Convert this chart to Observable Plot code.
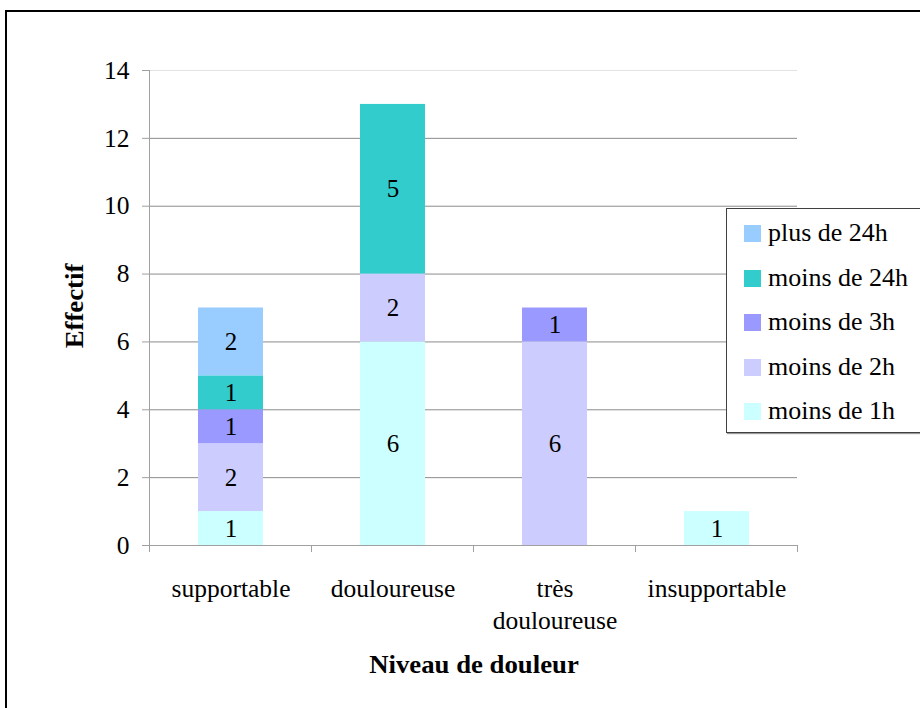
<!DOCTYPE html>
<html>
<head>
<meta charset="utf-8">
<script src="https://cdn.jsdelivr.net/npm/d3@7"></script>
<script src="https://cdn.jsdelivr.net/npm/@observablehq/plot@0.6"></script>
<style>
  html, body { margin: 0; padding: 0; background: #fff; }
  #wrap { position: relative; width: 920px; height: 708px; overflow: hidden; font-family: "Liberation Serif", "Times New Roman", serif; color: #000; }
  #frame { position: absolute; left: 5px; top: 10px; width: 960px; height: 760px; border: 2px solid #000; box-sizing: border-box; }
  #chart { position: absolute; left: 0; top: 0; }
  #legend { position: absolute; left: 726px; top: 208px; width: 220px; height: 225px; border: 1px solid #404040; box-shadow: 1px 1px 1px #999; background: #fff; box-sizing: border-box; }
  .row { position: absolute; left: 17px; height: 20px; display: flex; align-items: center; font-size: 24.5px; white-space: nowrap; }
  .row span { display: inline-block; transform: scaleX(1.06); transform-origin: left center; }
  .sw { width: 17px; height: 17px; margin-right: 7px; }
  #ytitle { position: absolute; left: 75px; top: 306px; transform: translate(-50%, -50%) rotate(-90deg) scaleX(1.07); font-weight: bold; font-size: 25px; white-space: nowrap; }
  #xtitle { position: absolute; left: 474px; top: 652px; transform: translateX(-50%) scaleX(1.07); font-weight: bold; font-size: 25px; white-space: nowrap; line-height: 25px; }
</style>
</head>
<body>
<div id="wrap">
  <div id="frame"></div>
  <div id="chart"></div>
  <div id="legend"></div>
  <div id="ytitle">Effectif</div>
  <div id="xtitle">Niveau de douleur</div>
</div>
<script>
const categories = ["supportable", "douloureuse", "très douloureuse", "insupportable"];
const categoryLabels = ["supportable", "douloureuse", "très\ndouloureuse", "insupportable"];
const series = ["moins de 1h", "moins de 2h", "moins de 3h", "moins de 24h", "plus de 24h"];
const colors = ["#CCFFFF", "#CCCCFF", "#9999FF", "#33CCCC", "#99CCFF"];
const supportable = [1, 2, 1, 1, 2];
const douloureuse = [6, 2, 0, 5, 0];
const tresDouloureuse = [0, 6, 1, 0, 0];
const insupportable = [1, 0, 0, 0, 0];
const yTicks = [0, 2, 4, 6, 8, 10, 12, 14];

const valuesByCategory = [supportable, douloureuse, tresDouloureuse, insupportable];
const data = [];
categories.forEach((c, ci) => {
  series.forEach((s, si) => {
    const v = valuesByCategory[ci][si];
    if (v > 0) data.push({cat: c, series: s, value: v});
  });
});

const SERIF = "Liberation Serif";

const plot = Plot.plot({
  width: 920,
  height: 708,
  marginLeft: 149,
  marginRight: 123,
  marginTop: 70,
  marginBottom: 163,
  style: {fontSize: "24px", color: "#000", background: "transparent"},
  x: {domain: categories, paddingInner: 0.6, paddingOuter: 0.3, align: 0.5, label: null},
  y: {domain: [0, 14], label: null},
  color: {domain: series, range: colors},
  marks: [
    Plot.ruleY(yTicks.filter(t => t > 0 && t < 14), {stroke: "#8c8c8c", strokeWidth: 1}),
    Plot.ruleY([14], {stroke: "#e2e2e2", strokeWidth: 1}),
    Plot.barY(data, Plot.stackY({x: "cat", y: "value", z: "series", fill: "series"})),
    Plot.text(data, Plot.stackY({x: "cat", y: "value", z: "series", text: d => String(d.value), fill: "#000", fontSize: 25, fontFamily: SERIF})),
    Plot.axisY({ticks: yTicks, tickSize: 7, tickPadding: 13, stroke: "#a0a0a0", fill: "#000", fontSize: 25.5, fontFamily: SERIF, label: null}),
    Plot.axisX({tickSize: 0, tickPadding: 28, fill: "#000", fontSize: 25.5, fontFamily: SERIF, lineHeight: 1.28, label: null,
      tickFormat: d => categoryLabels[categories.indexOf(d)]})
  ]
});

document.getElementById("chart").appendChild(plot);

// axis lines and boundary ticks via library scales
const sx = plot.scale("x"), sy = plot.scale("y");
const y0 = sy.apply(0), yTop = sy.apply(14);
const bounds = categories.map(c => sx.apply(c) + sx.bandwidth / 2 - sx.step / 2);
bounds.push(sx.apply(categories[categories.length - 1]) + sx.bandwidth / 2 + sx.step / 2);
const g = d3.select(plot).append("g").attr("stroke", "#a0a0a0").attr("stroke-width", 1).attr("shape-rendering", "crispEdges");
g.append("line").attr("x1", bounds[0]).attr("x2", bounds[0]).attr("y1", yTop).attr("y2", y0);
g.append("line").attr("x1", bounds[0] - 7).attr("x2", bounds[bounds.length - 1]).attr("y1", y0).attr("y2", y0);
bounds.forEach(b => g.append("line").attr("x1", b).attr("x2", b).attr("y1", y0).attr("y2", y0 + 7));

// legend
const legend = document.getElementById("legend");
const legendTops = [24, 69, 113, 158, 202];
series.slice().reverse().forEach((s, i) => {
  const row = document.createElement("div");
  row.className = "row";
  row.style.top = (legendTops[i] - 10) + "px";
  const sw = document.createElement("div");
  sw.className = "sw";
  sw.style.background = colors[series.indexOf(s)];
  const t = document.createElement("span");
  t.textContent = s;
  row.appendChild(sw);
  row.appendChild(t);
  legend.appendChild(row);
});
</script>
</body>
</html>
